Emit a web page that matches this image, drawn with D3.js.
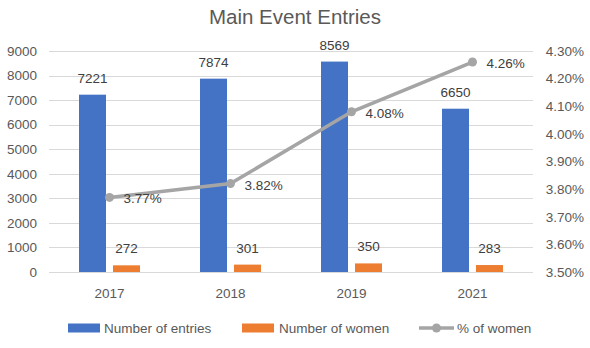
<!DOCTYPE html>
<html><head><meta charset="utf-8">
<script src="https://cdn.jsdelivr.net/npm/d3@7"></script>
<style>body{margin:0;background:#fff}svg{display:block}</style>
</head><body>
<script>
const categories = ["2017","2018","2019","2021"];
const entries = [7221, 7874, 8569, 6650];
const women = [272, 301, 350, 283];
const pctWomen = [3.77, 3.82, 4.08, 4.26];
const leftTicks = [0,1000,2000,3000,4000,5000,6000,7000,8000,9000];
const rightTicks = [3.5,3.6,3.7,3.8,3.9,4.0,4.1,4.2,4.3];
const seriesNames = ["Number of entries","Number of women","% of women"];
const colors = ["#4472C4","#ED7D31","#A5A5A5"];

const W=590,H=348;
const font="'Liberation Sans', Arial, sans-serif";
const txt="#595959";
const svg=d3.select("body").append("svg").attr("width",W).attr("height",H);
svg.append("rect").attr("width",W).attr("height",H).attr("fill","#fff");

const x0=49,x1=533,yTop=51,yBot=272;
const x=d3.scaleBand().domain(categories).range([x0,x1]);
const y=d3.scaleLinear().domain([0,9000]).range([yBot,yTop]);
const y2=d3.scaleLinear().domain([3.5,4.3]).range([yBot,yTop]);
const fs=13.5;

svg.append("text").attr("x",295).attr("y",24).attr("text-anchor","middle")
 .attr("font-family",font).attr("font-size",20.5).attr("fill",txt).text("Main Event Entries");

// gridlines
svg.append("g").selectAll("line").data(leftTicks.slice(1)).join("line")
 .attr("x1",x0).attr("x2",x1).attr("y1",d=>Math.round(y(d))+0.5).attr("y2",d=>Math.round(y(d))+0.5)
 .attr("stroke","#D9D9D9").attr("stroke-width",1);

// left axis labels
const la=d3.axisLeft(y).tickValues(leftTicks).tickSize(0).tickPadding(0).tickFormat(d3.format("d"));
const gl=svg.append("g").attr("transform",`translate(${37},0)`).call(la);
gl.select(".domain").remove();
gl.selectAll("text").attr("font-family",font).attr("font-size",fs).attr("fill",txt);

// right axis labels
const ra=d3.axisRight(y2).tickValues(rightTicks).tickSize(0).tickPadding(0).tickFormat(d=>d.toFixed(2)+"%");
const gr=svg.append("g").attr("transform",`translate(${584},0)`).call(ra);
gr.select(".domain").remove();
gr.selectAll("text").attr("font-family",font).attr("font-size",fs).attr("fill",txt).attr("text-anchor","end");

// bars
const bw=27;
const bars=svg.append("g");
categories.forEach((c,i)=>{
  const cx=x(c)+x.bandwidth()/2;
  bars.append("rect").attr("x",cx-30.5).attr("width",bw).attr("y",y(entries[i])).attr("height",y(0)-y(entries[i])).attr("fill",colors[0]);
  bars.append("rect").attr("x",cx+3.5).attr("width",bw).attr("y",y(women[i])).attr("height",y(0)-y(women[i])).attr("fill",colors[1]);
  bars.append("text").attr("x",cx-30.5+bw/2).attr("y",y(entries[i])-12).attr("text-anchor","middle")
   .attr("font-family",font).attr("font-size",fs).attr("fill","#404040").text(entries[i]);
  bars.append("text").attr("x",cx+3.5+bw/2).attr("y",y(women[i])-12).attr("text-anchor","middle")
   .attr("font-family",font).attr("font-size",fs).attr("fill","#404040").text(women[i]);
});

// axis line
svg.append("line").attr("x1",x0).attr("x2",x1).attr("y1",yBot+0.5).attr("y2",yBot+0.5).attr("stroke","#D9D9D9");

// category labels
const ba=d3.axisBottom(x).tickSize(0).tickPadding(0);
const gb=svg.append("g").attr("transform",`translate(0,${288})`).call(ba);
gb.select(".domain").remove();
gb.selectAll("text").attr("font-family",font).attr("font-size",fs).attr("fill",txt);

// line
const lineGen=d3.line().x((d,i)=>x(categories[i])+x.bandwidth()/2).y(d=>y2(d));
svg.append("path").datum(pctWomen).attr("d",lineGen).attr("fill","none").attr("stroke",colors[2]).attr("stroke-width",3.5);
svg.append("g").selectAll("circle").data(pctWomen).join("circle")
 .attr("cx",(d,i)=>x(categories[i])+x.bandwidth()/2).attr("cy",d=>y2(d)).attr("r",4.5).attr("fill",colors[2]);
svg.append("g").selectAll("text").data(pctWomen).join("text")
 .attr("x",(d,i)=>x(categories[i])+x.bandwidth()/2+14).attr("y",d=>y2(d)+6)
 .attr("font-family",font).attr("font-size",fs).attr("fill","#404040").text(d=>d.toFixed(2)+"%");

// legend
const lg=svg.append("g");
const ly=328;
lg.append("rect").attr("x",68).attr("y",ly-4.5).attr("width",32).attr("height",9).attr("fill",colors[0]);
lg.append("text").attr("x",104).attr("y",ly+5).attr("font-family",font).attr("font-size",fs).attr("fill",txt).text(seriesNames[0]);
lg.append("rect").attr("x",242).attr("y",ly-4.5).attr("width",32).attr("height",9).attr("fill",colors[1]);
lg.append("text").attr("x",279).attr("y",ly+5).attr("font-family",font).attr("font-size",fs).attr("fill",txt).text(seriesNames[1]);
lg.append("line").attr("x1",419).attr("x2",454).attr("y1",ly).attr("y2",ly).attr("stroke",colors[2]).attr("stroke-width",3.5);
lg.append("circle").attr("cx",436.5).attr("cy",ly).attr("r",4.5).attr("fill",colors[2]);
lg.append("text").attr("x",457).attr("y",ly+5).attr("font-family",font).attr("font-size",fs).attr("fill",txt).text(seriesNames[2]);
</script>
</body></html>
